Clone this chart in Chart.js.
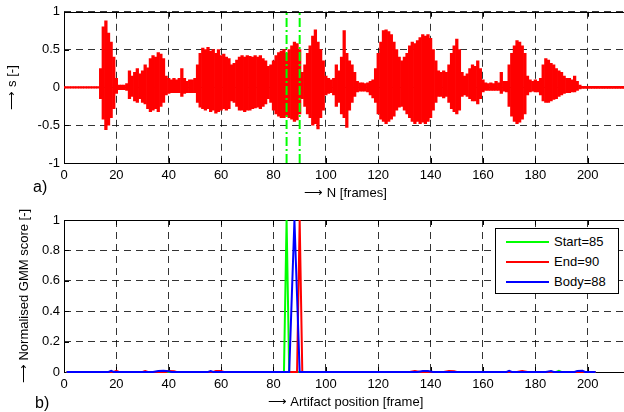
<!DOCTYPE html>
<html>
<head>
<meta charset="utf-8">
<script src="https://cdn.jsdelivr.net/npm/chart.js@4.4.1/dist/chart.umd.min.js"></script>
<style>
  html, body { margin:0; padding:0; background:#fff; overflow:hidden; width:624px; height:412px; position:relative; }
  canvas { position:absolute; left:0; }
  #cTop { top:0; }
  #cBot { top:205px; }
  .tag { position:absolute; font-family:"Liberation Sans", Arial, sans-serif; font-size:16px; line-height:16px; color:#000; }
  #legend { position:absolute; left:495px; top:228px; width:122px; height:64px; border:1px solid #000; background:#fff;
            font-family:"Liberation Sans", Arial, sans-serif; font-size:13px; color:#000; }
  #legend .row { position:absolute; left:0; height:20px; width:100%; }
  #legend .ln { position:absolute; left:10px; top:9px; width:43px; height:2px; }
  #legend .tx { position:absolute; left:58px; top:2px; line-height:16px; }
</style>
</head>
<body>
<canvas id="cTop" width="630" height="204"></canvas>
<canvas id="cBot" width="630" height="207"></canvas>
<div class="tag" style="left:33px; top:179px;">a)</div>
<div class="tag" style="left:35px; top:395px;">b)</div>
<div id="legend"></div>
<script>
// --- DATA ---
const xTicks = [0, 20, 40, 60, 80, 100, 120, 140, 160, 180, 200];
const topYTicks = [-1, -0.5, 0, 0.5, 1];
const botYTicks = [0, 0.2, 0.4, 0.6, 0.8, 1];
const markerFrames = [85, 90];   // green dash-dot markers (artifact start / end)

// waveform envelope per frame (0..214): upper and lower excursion
const sHi = [
  0.01,0.01,0.01,0.01,0.01,0.01,0.01,0.01,0.01,0.01,0.01,0.01,0.01,0.01,
  0.25,0.8,0.88,0.72,0.6,0.4,0.12,0.03,0.03,0.03,0.05,
  0.22,0.15,0.2,0.25,0.18,0.22,0.3,0.26,0.38,0.42,0.4,0.46,0.44,0.38,0.15,
  0.12,0.1,0.12,0.1,0.12,0.25,0.12,0.08,0.1,0.1,0.12,
  0.3,0.45,0.52,0.5,0.53,0.48,0.5,0.45,0.5,0.42,0.44,0.4,0.38,0.3,0.32,0.36,0.4,0.42,0.4,0.42,
  0.41,0.4,0.42,0.4,0.42,0.38,0.35,0.28,0.3,
  0.35,0.42,0.46,0.48,0.5,0.45,0.5,0.55,0.6,0.58,0.5,0.2,0.3,0.45,0.55,0.68,0.76,0.6,0.5,0.35,0.15,
  0.12,0.1,0.12,0.3,0.22,0.4,0.75,0.45,0.35,0.3,0.2,0.08,0.06,0.06,0.05,0.06,0.08,0.1,0.25,
  0.45,0.6,0.75,0.76,0.74,0.7,0.6,0.5,0.4,0.35,0.4,0.45,0.55,0.6,0.58,0.62,0.66,0.7,0.68,0.7,
  0.65,0.5,0.35,0.22,0.2,0.22,0.2,0.3,0.45,0.55,0.64,0.5,0.2,0.15,0.18,0.25,0.3,0.28,0.35,0.25,0.1,
  0.06,0.05,0.06,0.05,0.08,0.06,0.2,0.08,0.08,0.3,0.45,0.55,0.62,0.6,0.55,0.45,0.15,0.1,0.08,0.1,
  0.08,0.12,0.3,0.38,0.36,0.32,0.3,0.25,0.22,0.2,0.15,0.12,0.12,0.1,0.15,0.08,0.03,
  0.015,0.015,0.015,0.015,0.015,0.015,0.015,0.015,0.015,0.015,0.015,0.015,0.015,0.015,0.015,0.015,0.015
];
const sLo = [
  -0.01,-0.01,-0.01,-0.01,-0.01,-0.01,-0.01,-0.01,-0.01,-0.01,-0.01,-0.01,-0.01,-0.01,
  -0.15,-0.42,-0.56,-0.5,-0.4,-0.28,-0.08,-0.03,-0.03,-0.03,-0.04,
  -0.15,-0.12,-0.18,-0.2,-0.15,-0.2,-0.22,-0.28,-0.32,-0.3,-0.28,-0.32,-0.25,-0.2,-0.1,
  -0.08,-0.07,-0.07,-0.07,-0.07,-0.12,-0.08,-0.07,-0.07,-0.07,-0.07,
  -0.2,-0.26,-0.28,-0.3,-0.28,-0.32,-0.3,-0.34,-0.32,-0.3,-0.28,-0.3,-0.28,-0.18,-0.2,-0.25,-0.3,-0.3,-0.32,-0.3,
  -0.3,-0.28,-0.27,-0.26,-0.28,-0.25,-0.22,-0.15,-0.2,
  -0.3,-0.35,-0.38,-0.4,-0.4,-0.38,-0.4,-0.42,-0.45,-0.43,-0.35,-0.15,-0.25,-0.35,-0.4,-0.5,-0.48,-0.55,-0.4,-0.3,-0.1,
  -0.08,-0.07,-0.1,-0.25,-0.2,-0.35,-0.4,-0.53,-0.3,-0.2,-0.12,-0.06,-0.05,-0.05,-0.05,-0.06,-0.1,-0.14,-0.2,
  -0.35,-0.42,-0.45,-0.48,-0.45,-0.42,-0.38,-0.3,-0.26,-0.25,-0.3,-0.35,-0.4,-0.45,-0.48,-0.45,-0.48,-0.46,-0.48,-0.45,
  -0.4,-0.3,-0.2,-0.12,-0.12,-0.14,-0.12,-0.2,-0.28,-0.32,-0.35,-0.3,-0.12,-0.1,-0.12,-0.15,-0.18,-0.18,-0.22,-0.15,-0.06,
  -0.04,-0.04,-0.04,-0.04,-0.04,-0.04,-0.08,-0.05,-0.06,-0.25,-0.38,-0.45,-0.48,-0.46,-0.42,-0.35,-0.1,-0.06,-0.05,-0.06,
  -0.06,-0.1,-0.18,-0.2,-0.2,-0.18,-0.16,-0.15,-0.12,-0.1,-0.08,-0.07,-0.07,-0.06,-0.06,-0.04,-0.02,
  -0.015,-0.015,-0.015,-0.015,-0.015,-0.015,-0.015,-0.015,-0.015,-0.015,-0.015,-0.015,-0.015,-0.015,-0.015,-0.015,-0.015
];

// normalised GMM scores, [frame, score]
const startScore = [[1,0],[84,0],[85,1],[86,0],[188,0],[189,0.007],[190,0],[203,0]];
const endScore = [[1,0],[19,0],[20,0.007],[21,0],[30,0],[31,0.006],[32,0],[39,0],[40,0.007],[42,0.005],[43,0],
  [57,0],[58,0.007],[60,0.006],[61,0],[89,0],[90,1],[91,0],[132,0],[134,0.007],[136,0],[145,0],[147,0.007],
  [149,0.005],[150,0],[173,0],[175,0.007],[177,0],[203,0]];
const bodyScore = [[1,0],[17,0],[18,0.007],[19,0],[34,0],[36,0.006],[38,0.008],[40,0.005],[41,0],[55,0],[56,0.006],
  [57,0],[86,0],[87,0.5],[88,1],[89,0.5],[90,0],[135,0],[137,0.006],[139,0.007],[141,0],[169,0],[170,0.007],[171,0],
  [184,0],[186,0.006],[187,0],[195,0],[196,0.007],[198,0.008],[199,0],[203,0]];

const seriesLabels = ["Start=85", "End=90", "Body=88"];
const seriesColors = ["#00ff00", "#ff0000", "#0000ff"];

// --- STYLE HELPERS ---
const FONT = "'Liberation Sans', Arial, Helvetica, sans-serif";
const gridStyle = { color: "rgba(0,0,0,0.8)", lineWidth: 1, drawTicks: false };

// draws the solid axes box + small inward ticks (MATLAB look)
const boxPlugin = {
  id: "box",
  beforeDatasetsDraw(chart) {
    const { ctx, chartArea: a, scales } = chart;
    ctx.save();
    ctx.strokeStyle = "#000";
    ctx.lineWidth = 1;
    ctx.setLineDash([]);
    ctx.strokeRect(Math.round(a.left) + 0.5, Math.round(a.top) + 0.5,
                   Math.round(a.right - a.left), Math.round(a.bottom - a.top));
    ctx.beginPath();
    scales.x.ticks.forEach(t => {
      const px = Math.round(scales.x.getPixelForValue(t.value)) + 0.5;
      ctx.moveTo(px, a.bottom); ctx.lineTo(px, a.bottom - 5);
      ctx.moveTo(px, a.top); ctx.lineTo(px, a.top + 5);
    });
    scales.y.ticks.forEach(t => {
      const py = Math.round(scales.y.getPixelForValue(t.value)) + 0.5;
      ctx.moveTo(a.left, py); ctx.lineTo(a.left + 5, py);
    });
    ctx.stroke();
    ctx.restore();
  }
};

const plainLabel = v => String(v);

function xScale(titleText, titlePad, height) {
  return {
    type: "linear", min: 0, max: 215, offset: false,
    afterBuildTicks: s => { s.ticks = xTicks.map(v => ({ value: v })); },
    afterFit: s => { s.height = height; },
    grid: Object.assign({ offset: false }, gridStyle),
    border: { display: false, dash: [7, 5] },
    ticks: { color: "#000", padding: 5, maxRotation: 0, callback: plainLabel, font: { family: FONT, size: 13 } },
    title: { display: true, text: titleText, color: "#000", padding: { top: 0, bottom: titlePad }, font: { family: FONT, size: 13 } }
  };
}
function yScale(ticksArr, titleText, titlePad) {
  return {
    min: ticksArr[0], max: ticksArr[ticksArr.length - 1],
    afterBuildTicks: s => { s.ticks = ticksArr.map(v => ({ value: v })); },
    afterFit: s => { s.width = 64; },
    grid: Object.assign({}, gridStyle),
    border: { display: false, dash: [7, 5] },
    ticks: { color: "#000", padding: 4, callback: plainLabel, font: { family: FONT, size: 13 } },
    title: { display: true, text: titleText, color: "#000", padding: { top: titlePad, bottom: 0 }, font: { family: FONT, size: 13 } }
  };
}

// --- TOP: speech signal ---
const yMin = topYTicks[0], yMax = topYTicks[topYTicks.length - 1];
new Chart(document.getElementById("cTop"), {
  type: "bar",
  data: {
    datasets: [
      ...markerFrames.map(f => ({
        type: "line",
        data: [{ x: f, y: yMin }, { x: f, y: yMax }],
        borderColor: "#00ff00", borderWidth: 2, borderDash: [9, 3, 2, 3],
        pointRadius: 0, order: 0
      })),
      {
        type: "bar",
        data: sHi.map((h, i) => ({ x: i, y: [sLo[i], h] })),
        backgroundColor: "#ff0000", borderWidth: 0,
        barPercentage: 1, categoryPercentage: 1, order: 1
      }
    ]
  },
  options: {
    responsive: false, animation: false,
    layout: { padding: { top: 11, right: 3, left: 0, bottom: 0 } },
    plugins: { legend: { display: false }, tooltip: { enabled: false } },
    scales: {
      x: xScale("\u27F6 N [frames]", 3, 41),
      y: yScale(topYTicks, "\u27F6 s [-]", 5)
    }
  },
  plugins: [boxPlugin]
});

// --- BOTTOM: GMM scores ---
const scoreSets = [startScore, endScore, bodyScore];
new Chart(document.getElementById("cBot"), {
  type: "line",
  data: {
    datasets: scoreSets.map((pts, k) => ({
      label: seriesLabels[k],
      data: pts.map(p => ({ x: p[0], y: p[1] })),
      borderColor: seriesColors[k], borderWidth: 2,
      pointRadius: 0, tension: 0, clip: 4,
      order: 3 - k
    }))
  },
  options: {
    responsive: false, animation: false,
    layout: { padding: { top: 15, right: 3, left: 0, bottom: 0 } },
    plugins: { legend: { display: false }, tooltip: { enabled: false } },
    scales: {
      x: xScale("\u27F6 Artifact position [frame]", 2, 40),
      y: yScale(botYTicks, "\u27F6 Normalised GMM score [-]", 17)
    }
  },
  plugins: [boxPlugin]
});

// --- LEGEND (built from the series) ---
const leg = document.getElementById("legend");
leg.innerHTML = seriesLabels.map((lab, k) =>
  `<div class="row" style="top:${3 + k * 20}px"><div class="ln" style="background:${seriesColors[k]}"></div><div class="tx">${lab}</div></div>`
).join("");
</script>
</body>
</html>
